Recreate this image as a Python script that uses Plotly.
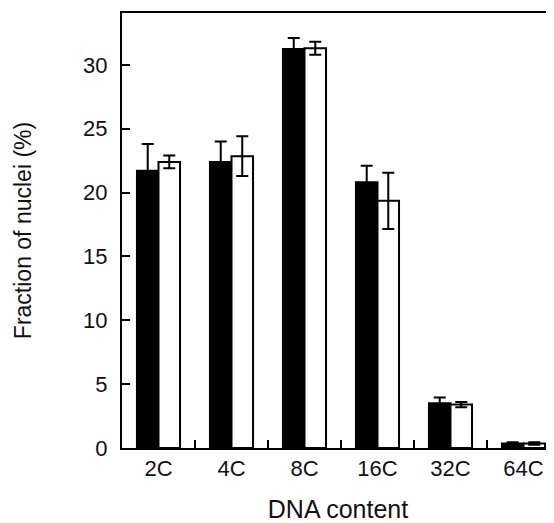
import plotly.graph_objects as go

categories = ["2C", "4C", "8C", "16C", "32C", "64C"]
black_values = [21.7, 22.4, 31.25, 20.8, 3.5, 0.35]
black_errors = [2.1, 1.6, 0.85, 1.3, 0.45, 0.1]
white_values = [22.4, 22.85, 31.3, 19.35, 3.4, 0.35]
white_errors = [0.5, 1.55, 0.5, 2.2, 0.2, 0.1]
y_ticks = [0, 5, 10, 15, 20, 25, 30]

FONT = "Arial, Liberation Sans, sans-serif"

fig = go.Figure()
fig.add_trace(go.Bar(
    x=categories, y=black_values,
    marker=dict(color="black", line=dict(color="black", width=2)),
    error_y=dict(type="data", array=black_errors, visible=True,
                 color="black", thickness=2, width=6),
    showlegend=False,
))
fig.add_trace(go.Bar(
    x=categories, y=white_values,
    marker=dict(color="white", line=dict(color="black", width=2)),
    error_y=dict(type="data", array=white_errors, visible=True,
                 color="black", thickness=2, width=6),
    showlegend=False,
))

fig.update_layout(
    width=546, height=515,
    margin=dict(l=114, r=0, t=5, b=75, autoexpand=False),
    paper_bgcolor="white", plot_bgcolor="white",
    barmode="group", bargap=0.41, bargroupgap=0,
    font=dict(family=FONT, color="#111", size=22),
    xaxis=dict(
        type="category", range=[-0.5, 5.418], automargin=False,
        showline=True, linecolor="black", linewidth=2, mirror=True,
        ticks="inside", tickson="boundaries", ticklen=8, tickwidth=2, tickcolor="black",
        showgrid=False, zeroline=False,
        tickfont=dict(size=22, family=FONT),
        title=dict(text="DNA content", font=dict(size=25, family=FONT), standoff=20),
    ),
    yaxis=dict(
        range=[0, 34.06], automargin=False,
        tickvals=y_ticks,
        showline=True, linecolor="black", linewidth=2, mirror=False,
        ticks="inside", ticklen=8, tickwidth=2, tickcolor="black",
        ticklabelstandoff=8,
        showgrid=False, zeroline=False,
        tickfont=dict(size=22, family=FONT),
        title=dict(text="Fraction of nuclei (%)", font=dict(size=23, family=FONT), standoff=45),
    ),
)

fig.write_html("out.html")
